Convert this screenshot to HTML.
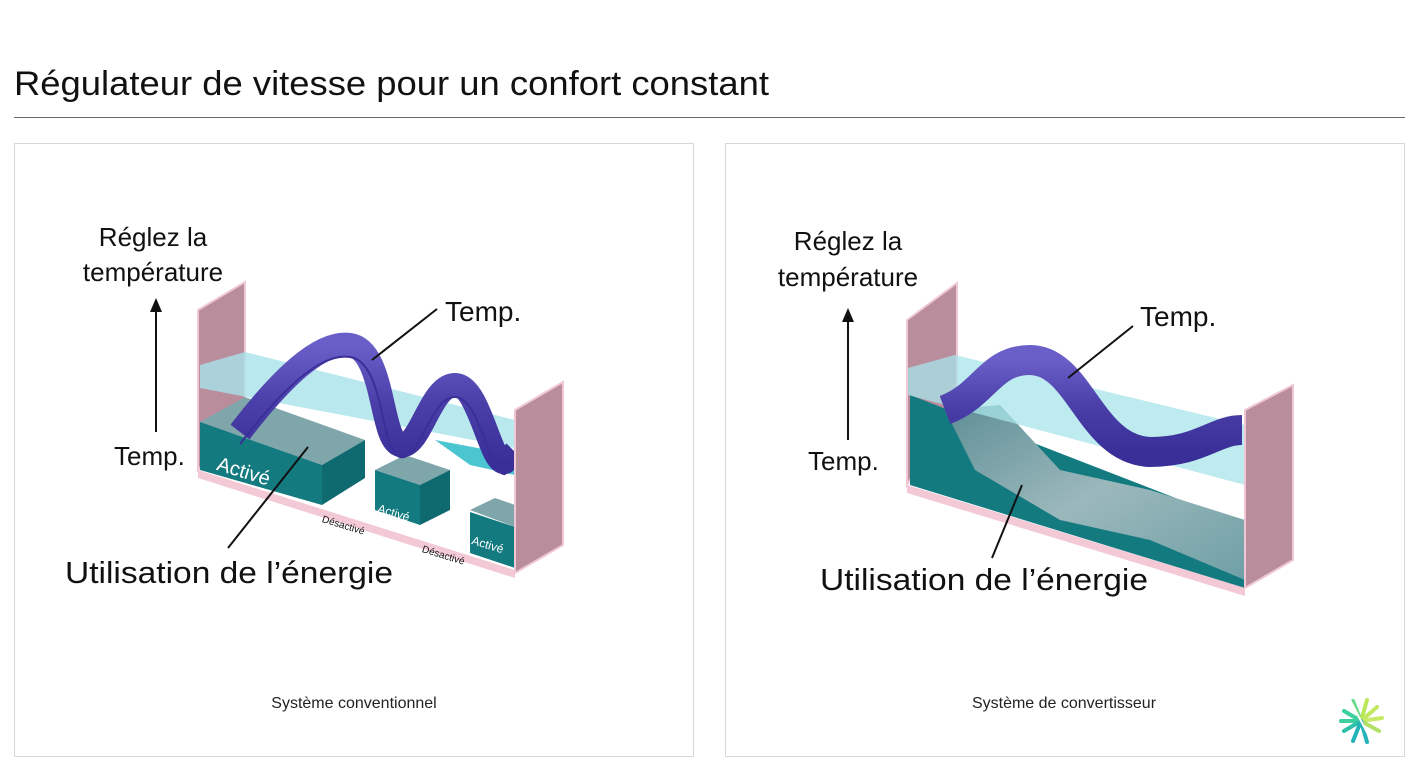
<!DOCTYPE html>
<html><head><meta charset="utf-8"><style>
html,body{margin:0;padding:0;background:#fff;}
svg{display:block;font-family:"Liberation Sans",sans-serif;}
</style></head><body>
<svg width="1420" height="776" viewBox="0 0 1420 776" xmlns="http://www.w3.org/2000/svg">
<defs>
<linearGradient id="pur" x1="0" y1="0" x2="0" y2="1"><stop offset="0" stop-color="#6a5fc8"/><stop offset="0.5" stop-color="#4a3fa8"/><stop offset="1" stop-color="#3a2f98"/></linearGradient>
<linearGradient id="grey" x1="0" y1="0" x2="1" y2="1"><stop offset="0" stop-color="#5e8f96"/><stop offset="0.5" stop-color="#9bb8bc"/><stop offset="1" stop-color="#6fa0a6"/></linearGradient>
</defs>
<text x="14" y="95" font-size="34" fill="#111" textLength="755" lengthAdjust="spacingAndGlyphs">Régulateur de vitesse pour un confort constant</text>
<line x1="14" y1="117.5" x2="1405" y2="117.5" stroke="#666" stroke-width="1"/>
<rect x="14.5" y="143.5" width="679" height="613" fill="#fff" stroke="#d8d8d8"/>
<rect x="725.5" y="143.5" width="679" height="613" fill="#fff" stroke="#d8d8d8"/>

<!-- LEFT DIAGRAM -->
<polygon points="198,470 515,570 515,578 198,478" fill="#f3c9d6"/>
<polygon points="198,310 245,282 245,420 198,470" fill="#b98d9c" stroke="#f0c8d5" stroke-width="2"/>
<polygon points="200,365 245,352 515,420 515,448 200,388" fill="#a8e4ea" opacity="0.8"/>
<!-- big box -->
<polygon points="200,422 245,397 365,440 322,465" fill="#7fa6aa"/>
<polygon points="200,422 322,465 322,505 200,470" fill="#137a80"/>
<polygon points="322,465 365,440 365,478 322,505" fill="#0f6a70"/>
<!-- small box 1 -->
<polygon points="375,470 405,455 450,470 420,485" fill="#7fa6aa"/>
<polygon points="375,470 420,485 420,525 375,510" fill="#137a80"/>
<polygon points="420,485 450,470 450,510 420,525" fill="#0f6a70"/>
<!-- small box 2 -->
<polygon points="470,510 495,498 515,505 515,527" fill="#7fa6aa"/>
<polygon points="470,512 515,527 515,568 470,553" fill="#137a80"/>
<polygon points="435,440 515,455 515,475 470,465" fill="#2bbcc8" opacity="0.85"/>
<!-- wave -->
<path d="M240,432 C280,380 320,340 350,345 C385,350 380,440 400,445 C420,450 430,385 455,385 C480,385 490,465 505,462 L515,452" fill="none" stroke="url(#pur)" stroke-width="24" stroke-linejoin="round"/>
<path d="M240,432 C280,380 320,340 350,345 C385,350 380,440 400,445 C420,450 430,385 455,385 C480,385 490,465 505,462 L515,452" fill="none" stroke="#3a2f98" stroke-width="2" transform="translate(0,12)"/>
<polygon points="515,410 563,382 563,545 515,573" fill="#b98d9c" stroke="#f0c8d5" stroke-width="2"/>

<text x="153" y="246" font-size="26" text-anchor="middle" fill="#111">Réglez la</text>
<text x="153" y="281" font-size="26" text-anchor="middle" fill="#111">température</text>
<line x1="156" y1="432" x2="156" y2="308" stroke="#111" stroke-width="2"/>
<polygon points="156,298 150,312 162,312" fill="#111"/>
<text x="114" y="465" font-size="26" fill="#111">Temp.</text>
<text x="445" y="321" font-size="28" fill="#111">Temp.</text>
<line x1="437" y1="309" x2="372" y2="360" stroke="#111" stroke-width="2"/>
<text x="218" y="470" font-size="20" fill="#fff" transform="rotate(17 218 462)">Activé</text>
<text x="378" y="512" font-size="12" fill="#fff" transform="rotate(17 378 508)">Activé</text>
<text x="472" y="544" font-size="12" fill="#fff" transform="rotate(17 472 540)">Activé</text>
<text x="322" y="522" font-size="10" fill="#111" transform="rotate(17 322 520)">Désactivé</text>
<text x="422" y="552" font-size="10" fill="#111" transform="rotate(17 422 550)">Désactivé</text>
<line x1="228" y1="548" x2="308" y2="447" stroke="#111" stroke-width="2"/>
<text x="65" y="583" font-size="31" fill="#111" textLength="328" lengthAdjust="spacingAndGlyphs">Utilisation de l’énergie</text>

<!-- RIGHT DIAGRAM -->
<polygon points="907,485 1245,588 1245,596 907,493" fill="#f3c9d6"/>
<polygon points="907,320 957,283 957,400 907,485" fill="#b98d9c" stroke="#f0c8d5" stroke-width="2"/>
<polygon points="910,395 1245,525 1245,588 910,485" fill="#137a80"/>
<polygon points="945,410 1000,405 1060,470 1150,490 1245,520 1245,580 1150,540 1060,520 975,470" fill="url(#grey)"/>
<polygon points="908,368 955,355 1245,425 1245,485 908,395" fill="#a8e4ea" opacity="0.75"/>
<path d="M945,410 C985,395 990,360 1030,360 C1080,360 1090,450 1150,452 C1200,452 1215,430 1242,430" fill="none" stroke="url(#pur)" stroke-width="30" stroke-linejoin="round"/>
<polygon points="1245,410 1293,385 1293,560 1245,588" fill="#b98d9c" stroke="#f0c8d5" stroke-width="2"/>

<text x="848" y="250" font-size="26" text-anchor="middle" fill="#111">Réglez la</text>
<text x="848" y="286" font-size="26" text-anchor="middle" fill="#111">température</text>
<line x1="848" y1="440" x2="848" y2="318" stroke="#111" stroke-width="2"/>
<polygon points="848,308 842,322 854,322" fill="#111"/>
<text x="808" y="470" font-size="26" fill="#111">Temp.</text>
<text x="1140" y="326" font-size="28" fill="#111">Temp.</text>
<line x1="1133" y1="326" x2="1068" y2="378" stroke="#111" stroke-width="2"/>
<line x1="992" y1="558" x2="1022" y2="485" stroke="#111" stroke-width="2"/>
<text x="820" y="590" font-size="31" fill="#111" textLength="328" lengthAdjust="spacingAndGlyphs">Utilisation de l’énergie</text>

<text x="354" y="708" font-size="16" text-anchor="middle" fill="#222">Système conventionnel</text>
<text x="1064" y="708" font-size="16" text-anchor="middle" fill="#222">Système de convertisseur</text>

<!-- logo -->
<g transform="translate(1361,721)" stroke-width="4" stroke-linecap="round">
<line x1="0" y1="0" x2="-20" y2="0" stroke="#3dcfa0"/>
<line x1="0" y1="0" x2="-17" y2="-10" stroke="#3dcfa0"/>
<line x1="0" y1="0" x2="-17" y2="10" stroke="#2fbfaa"/>
<line x1="0" y1="0" x2="-8" y2="-20" stroke="#6ad98a"/>
<line x1="0" y1="0" x2="-8" y2="20" stroke="#22b3b8"/>
<line x1="0" y1="0" x2="6" y2="-21" stroke="#b8e85a"/>
<line x1="0" y1="0" x2="16" y2="-14" stroke="#c2e860"/>
<line x1="0" y1="0" x2="21" y2="-3" stroke="#c8ea66"/>
<line x1="0" y1="0" x2="18" y2="10" stroke="#b0e068"/>
<line x1="0" y1="0" x2="6" y2="21" stroke="#22b3b8"/>
<line x1="-11" y1="-21" x2="11" y2="21" stroke="#fff" stroke-width="2"/>
</g>
</svg>
</body></html>
